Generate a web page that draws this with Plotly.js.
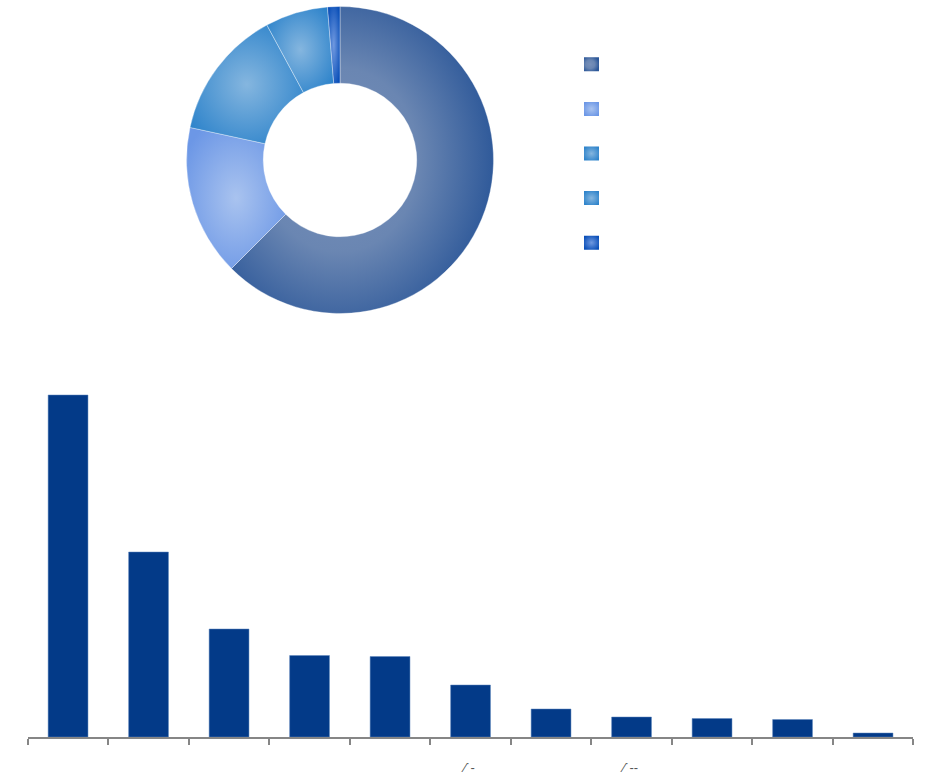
<!DOCTYPE html>
<html>
<head>
<meta charset="utf-8">
<script src="https://cdn.plot.ly/plotly-3.0.1.min.js"></script>
<style>html,body{margin:0;padding:0;background:#fff}#chart{width:926px;height:782px}</style>
</head>
<body>
<div id="chart"></div>
<script>
// Donut: shares. Legend labels are not legible in the reference (white on white).
const sliceLabels = ['A', 'B', 'C', 'D', 'E'];
const sliceValues = [62.5, 15.9, 13.7, 6.6, 1.3];
const sliceCenters = ['#7790ba', '#a9c3ef', '#85b6df', '#85b6df', '#7099e0'];
const sliceEdges = ['#2d5899', '#6c97e6', '#2f84cb', '#2f84cb', '#0a4fb8'];

// Bars: values in the reference's vertical pixel units.
const barPositions = [0, 1, 2, 3, 4, 5, 6, 7, 8, 9, 10];
const barValues = [342, 185, 108, 81.5, 80.5, 52, 28, 20, 18.5, 17.5, 4];
const tickBoundaries = [-0.5, 0.5, 1.5, 2.5, 3.5, 4.5, 5.5, 6.5, 7.5, 8.5, 9.5, 10.5];
// Only two faint label fragments are visible in the reference.
const labelFragments = [{pos: 5, text: '⁄˙-'}, {pos: 7, text: '⁄˙--'}];

const W = 926, H = 782;
const traces = [
  {
    type: 'pie', labels: sliceLabels, values: sliceValues, hole: 0.5, sort: false,
    direction: 'clockwise', rotation: 0, textinfo: 'none', hoverinfo: 'label+percent',
    domain: {x: [186.5 / W, 493.5 / W], y: [1 - 313.5 / H, 1 - 6.5 / H]},
    marker: {colors: sliceEdges, line: {color: 'rgba(255,255,255,0.7)', width: 0.5}}
  },
  {
    type: 'bar', x: barPositions, y: barValues, showlegend: false, width: 0.495,
    marker: {color: '#033a88', line: {color: '#5f86bd', width: 0.5}}, hoverinfo: 'y'
  }
];
const layout = {
  width: W, height: H, margin: {l: 0, r: 0, t: 0, b: 0}, paper_bgcolor: '#fff', plot_bgcolor: '#fff',
  font: {family: 'Liberation Sans, sans-serif'},
  showlegend: true,
  legend: {
    x: 571.5 / W, xanchor: 'left', y: 1 - 37 / H, yanchor: 'top', traceorder: 'normal',
    font: {size: 32, color: '#ffffff'}, bgcolor: 'rgba(0,0,0,0)', borderwidth: 0
  },
  xaxis: {
    type: 'linear', domain: [27.8 / W, 913.3 / W], range: [-0.5, 10.5],
    tickmode: 'array', tickvals: tickBoundaries, showticklabels: false,
    ticks: 'outside', ticklen: 6, tickwidth: 2, tickcolor: '#868686',
    showline: true, linecolor: '#868686', linewidth: 2, showgrid: false, zeroline: false,
    automargin: false
  },
  yaxis: {domain: [1 - 737 / H, 1 - 387 / H], range: [0, 350], visible: false, fixedrange: true},
  annotations: labelFragments.map(f => ({
    x: f.pos, xref: 'x', xshift: -3, y: 1 - 767 / H, yref: 'paper', yanchor: 'middle', showarrow: false,
    text: f.text, font: {size: 13, color: '#555555'}
  }))
};

const gd = document.getElementById('chart');
Plotly.newPlot(gd, traces, layout, {displayModeBar: false}).then(() => {
  const svgNS = 'http://www.w3.org/2000/svg';
  const svg = gd.querySelector('svg.main-svg');
  const defs = document.createElementNS(svgNS, 'defs');
  sliceEdges.forEach((edge, i) => {
    const g = document.createElementNS(svgNS, 'radialGradient');
    g.setAttribute('id', 'sliceGrad' + i);
    g.setAttribute('cx', i === 0 ? '41.4%' : '50%'); g.setAttribute('cy', '50%'); g.setAttribute('r', '60%');
    const stops = i === 0 ? [[0, sliceCenters[i]], [0.5, '#6a86b2'], [1, edge]] : [[0, sliceCenters[i]], [1, edge]];
    stops.forEach(([o, c]) => {
      const s = document.createElementNS(svgNS, 'stop');
      s.setAttribute('offset', o); s.setAttribute('stop-color', c);
      g.appendChild(s);
    });
    defs.appendChild(g);
  });
  svg.insertBefore(defs, svg.firstChild);
  gd.querySelectorAll('.pielayer .slice path.surface').forEach((p, i) => {
    p.style.fill = 'url(#sliceGrad' + i + ')';
  });
  gd.querySelectorAll('.legend .traces').forEach((t, i) => {
    const p = t.querySelector('.legendpie');
    if (p) {
      p.style.fill = 'url(#sliceGrad' + i + ')';
      p.style.stroke = 'none';
      p.setAttribute('d', 'M7.5,7H-7.5V-7H7.5Z');
    }
  });
});
</script>
</body>
</html>
